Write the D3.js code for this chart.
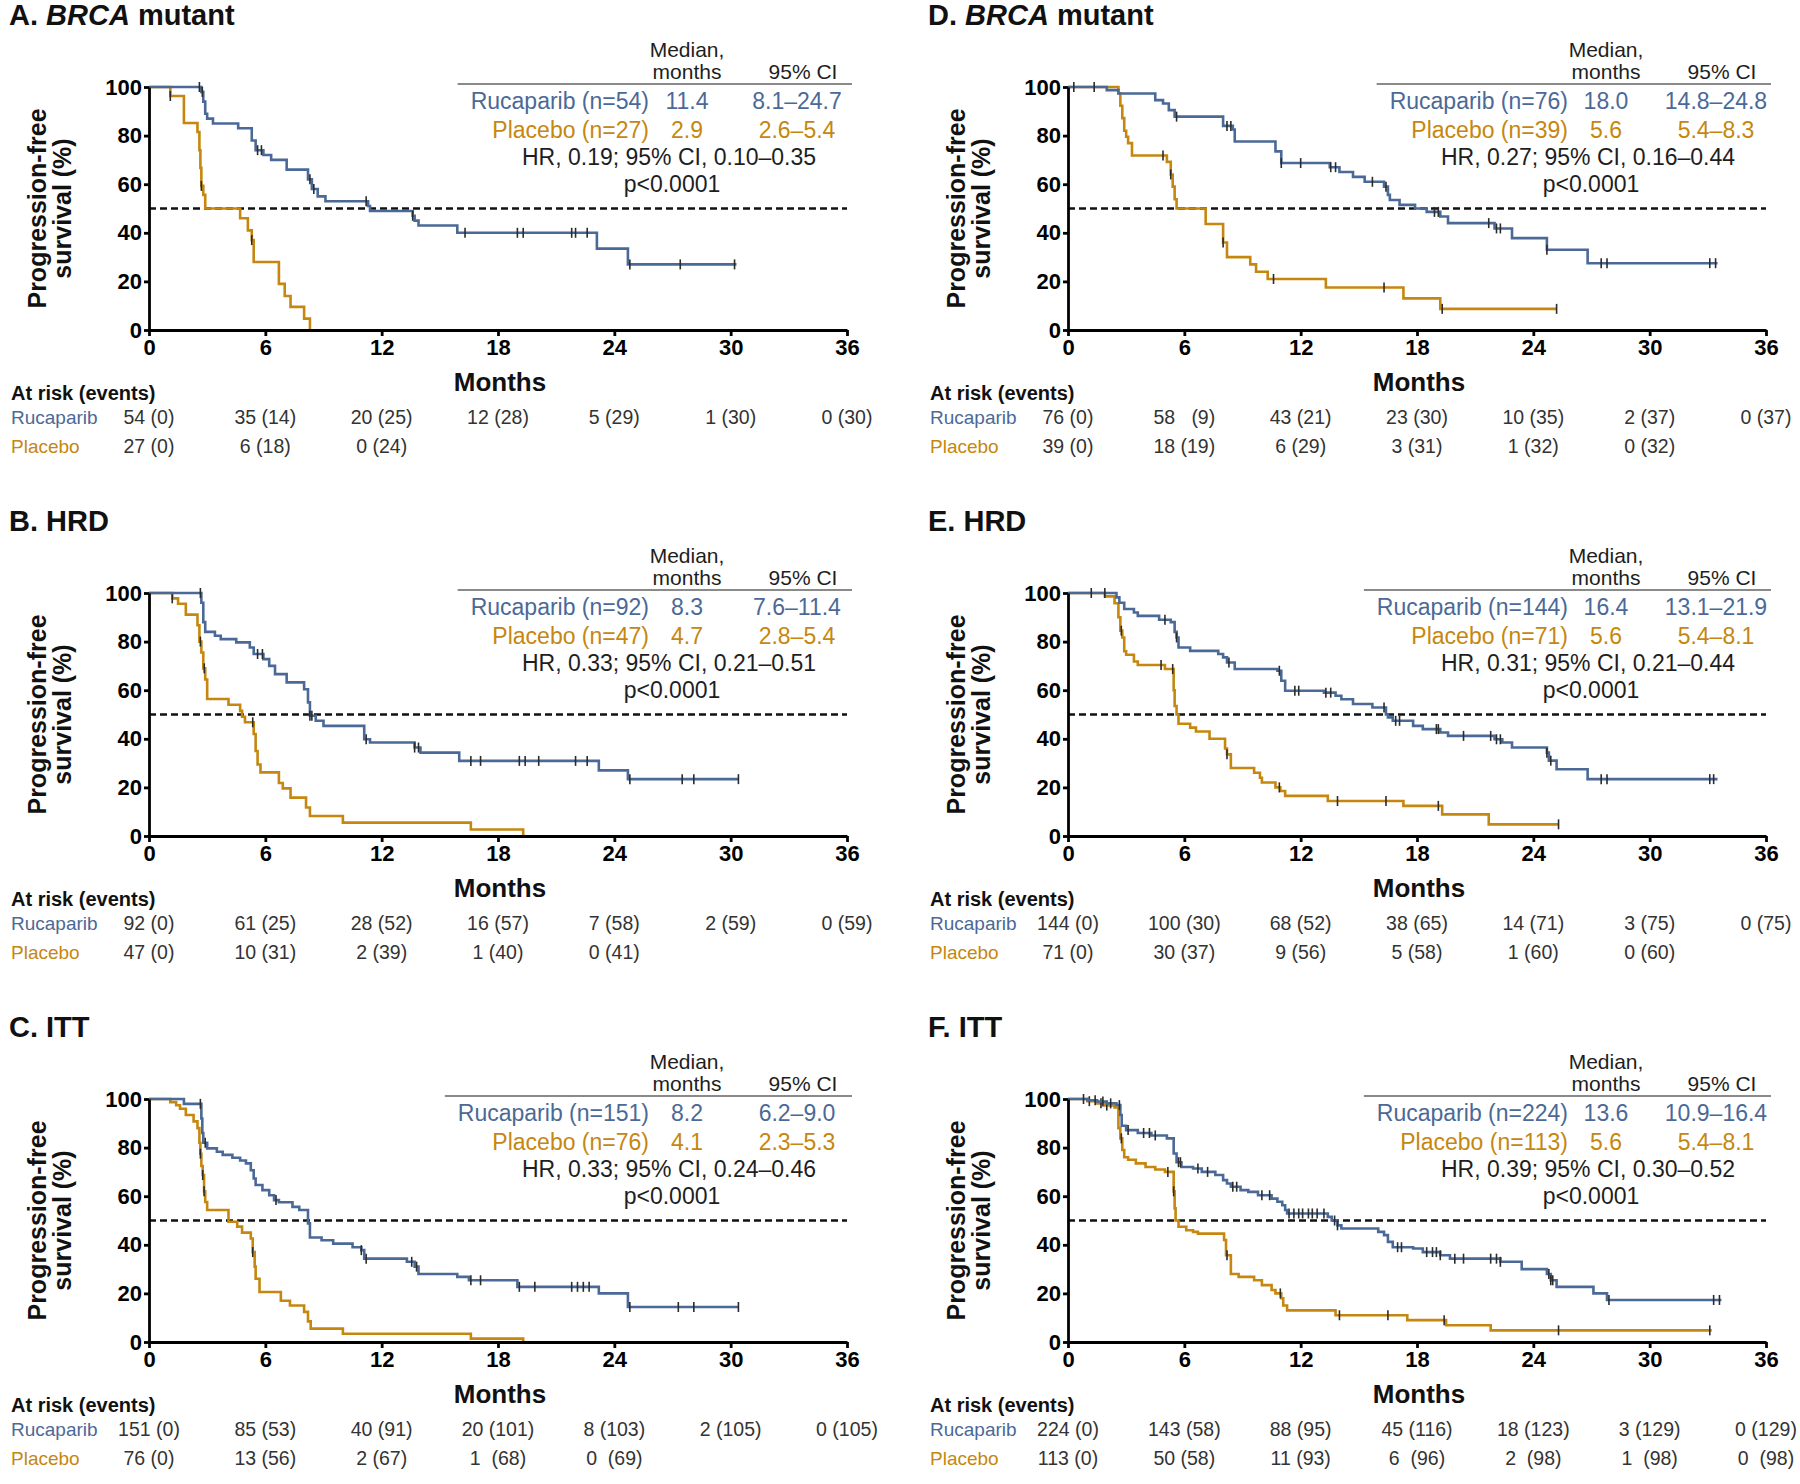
<!DOCTYPE html>
<html lang="en">
<head>
<meta charset="UTF-8">
<title>Progression-free survival by cohort</title>
<script src="https://d3js.org/d3.v7.min.js"></script>
<style>
  body { margin: 0; background: #fff; }
  svg { font-family: "Liberation Sans", Arial, sans-serif; }
  svg text { white-space: pre; }
  .axis path, .axis line { stroke: #000; stroke-width: 2.8; }
  .axis text { font-family: "Liberation Sans", Arial, sans-serif; font-size: 22px; font-weight: bold; fill: #000; }
</style>
</head>
<body>
<svg id="chart" width="1800" height="1484"></svg>
<script>
// ---- data ----
const monthTicks = [0, 6, 12, 18, 24, 30, 36];
const pctTicks = [0, 20, 40, 60, 80, 100];

const panelLetters = ["A", "B", "C", "D", "E", "F"];
const panelNames = ["BRCA mutant", "HRD", "ITT", "BRCA mutant", "HRD", "ITT"];
const rucN = [54, 92, 151, 76, 144, 224];
const placN = [27, 47, 76, 39, 71, 113];
const rucMedian = ["11.4", "8.3", "8.2", "18.0", "16.4", "13.6"];
const rucCI = ["8.1–24.7", "7.6–11.4", "6.2–9.0", "14.8–24.8", "13.1–21.9", "10.9–16.4"];
const placMedian = ["2.9", "4.7", "4.1", "5.6", "5.6", "5.6"];
const placCI = ["2.6–5.4", "2.8–5.4", "2.3–5.3", "5.4–8.3", "5.4–8.1", "5.4–8.1"];
const hrText = [
  "HR, 0.19; 95% CI, 0.10–0.35", "HR, 0.33; 95% CI, 0.21–0.51", "HR, 0.33; 95% CI, 0.24–0.46",
  "HR, 0.27; 95% CI, 0.16–0.44", "HR, 0.31; 95% CI, 0.21–0.44", "HR, 0.39; 95% CI, 0.30–0.52"
];
const pText = "p<0.0001";

// Kaplan-Meier steps: [month, % progression-free after the step]
const aRuc = [[0,100],[2.7,98],[2.8,94],[2.9,89],[3.0,87],[3.3,85],[4.6,83],[5.3,78],[5.5,74],[5.9,72],[6.3,70],[7.1,66],[8.2,62],[8.4,58],[8.7,55],[9.1,53],[11.3,51],[11.4,49],[13.6,47],[13.7,45],[13.9,43],[15.9,40],[23.1,33.5],[24.7,27],[30.3,27]];
const aRucCens = [2.6, 2.75, 5.6, 5.8, 8.3, 8.5, 11.2, 13.6, 16.3, 19.0, 19.3, 21.8, 22.0, 22.6, 24.8, 27.4, 30.2];
const aPla = [[0,100],[1.1,96.3],[1.8,85.2],[2.5,81.5],[2.6,74],[2.65,66.7],[2.7,59.3],[2.8,55.6],[2.9,50],[4.7,46],[5.1,41],[5.3,37],[5.4,28],[6.7,19],[7.0,14],[7.3,9.5],[8.0,4.7],[8.3,0]];
const aPlaCens = [1.1, 2.7, 5.3];

const bRuc = [[0,100],[2.7,96],[2.8,88],[2.9,84],[3.4,82.4],[3.7,81],[4.5,79.7],[5.2,77.6],[5.4,74.9],[5.9,72.8],[6.2,70],[6.5,66.6],[7.1,63.2],[8.0,60.4],[8.2,55],[8.3,49.5],[8.6,47.4],[9.0,45.3],[11.1,39.8],[11.4,38.5],[13.7,36.4],[14.0,34.3],[16.0,30.9],[23.2,27],[24.7,23.4],[30.4,23.4]];
const bRucCens = [2.65, 5.6, 5.85, 8.3, 8.4, 11.2, 13.7, 13.9, 16.6, 17.1, 19.1, 19.4, 20.1, 22.0, 22.6, 24.8, 27.5, 28.1, 30.4];
const bPla = [[0,100],[1.2,97.8],[1.5,95.6],[1.9,91.1],[2.5,86.7],[2.6,80],[2.7,75.5],[2.8,69],[2.9,64.4],[3.0,56.4],[4.1,54],[4.7,51.5],[4.8,49.1],[4.95,46.8],[5.4,42],[5.5,35],[5.6,29.4],[5.75,26.2],[6.7,21.8],[6.9,19.6],[7.3,15.8],[8.1,11.7],[8.3,8.2],[10.0,5.5],[16.6,2.7],[19.3,0]];
const bPlaCens = [1.2, 2.65, 2.85, 5.35];

const cRuc = [[0,100],[1.8,98],[2.7,92],[2.75,86],[2.8,82],[3.0,79.7],[3.5,78.3],[3.8,77],[4.3,75.8],[4.7,74.7],[5.0,73.5],[5.25,70.7],[5.4,67.3],[5.5,64.6],[5.85,62.5],[6.2,60.4],[6.45,58.4],[6.7,57.5],[7.4,55.6],[7.75,54.3],[8.2,48.8],[8.3,43],[8.9,41.9],[9.5,40.5],[10.5,39],[10.95,37.8],[11.1,34.3],[13.3,33],[13.7,31],[13.9,28],[15.9,26.8],[16.5,25.4],[19.0,22.7],[23.2,20],[24.7,14.4],[30.4,14.4]];
const cRucCens = [2.65, 2.9, 6.55, 10.95, 11.2, 13.55, 13.8, 16.6, 17.1, 19.1, 19.9, 21.8, 22.1, 22.4, 22.7, 24.8, 27.3, 28.1, 30.4];
const cPla = [[0,100],[1.1,98.7],[1.4,97.4],[1.6,96],[1.9,93.4],[2.3,90.8],[2.5,88],[2.6,82],[2.65,77.5],[2.7,72.4],[2.77,68.7],[2.84,62],[2.9,57.6],[3.0,54.3],[4.1,49.5],[4.55,47.5],[4.8,45],[5.25,42.6],[5.35,37],[5.45,31],[5.5,26],[5.7,20.6],[6.8,17],[7.27,15],[8.0,12.4],[8.2,8.5],[8.34,5.5],[10.0,3.4],[16.6,1.4],[19.3,0]];
const cPlaCens = [2.65, 2.77, 2.84, 5.35];

const dRuc = [[0,100],[2.0,98.7],[2.6,97.3],[4.5,94.6],[4.9,93.2],[5.2,90.5],[5.5,87.8],[8.0,84],[8.5,82.5],[8.6,77.6],[10.7,73.5],[11.0,68.7],[13.5,67],[14.0,65],[14.7,63],[15.3,61],[16.3,59],[16.5,55.6],[16.6,53.5],[17.1,51.5],[17.9,50],[18.5,48.6],[19.2,46.7],[19.6,44],[22.0,41.8],[22.9,37.8],[24.7,33],[26.8,27.5],[33.5,27.5]];
const dRucCens = [0.3, 1.35, 5.6, 8.2, 8.4, 11.0, 12.0, 13.55, 13.8, 15.7, 16.4, 18.9, 19.1, 21.7, 22.1, 22.3, 24.7, 27.5, 27.8, 33.1, 33.4];
const dPla = [[0,100],[2.6,97.4],[2.7,92.3],[2.8,87.2],[2.9,82],[3.0,79.5],[3.1,76.9],[3.3,71.8],[5.1,69.2],[5.3,64],[5.4,59],[5.5,53.8],[5.6,50],[7.1,43.6],[8.0,36],[8.2,30],[9.4,27],[9.7,24],[10.3,21],[13.3,17.5],[17.3,13],[19.2,8.7],[25.2,8.7]];
const dPlaCens = [4.9, 5.3, 8.0, 10.6, 16.3, 19.3, 25.2];

const eRuc = [[0,100],[2.5,98.2],[2.65,96],[2.9,93.4],[3.4,92],[3.6,90.6],[4.7,89],[5.3,88],[5.5,84],[5.6,81.7],[5.7,77.6],[6.3,76.2],[7.75,74.9],[8.0,73.5],[8.2,71.4],[8.6,68.7],[10.8,68],[11.0,63.9],[11.2,59.8],[13.2,59],[13.8,57.7],[14.1,56.3],[14.7,54.3],[15.7,52.9],[16.4,50],[16.5,48.8],[16.75,47.4],[17.8,45.3],[18.3,44],[19.2,42.6],[19.6,41.2],[22.0,39.8],[22.4,38.5],[22.9,36.4],[24.7,34.3],[24.8,31],[25.2,27.5],[26.8,23.4],[33.5,23.4]];
const eRucCens = [1.2, 1.9, 5.0, 5.6, 8.3, 10.9, 11.7, 11.9, 13.3, 13.55, 16.3, 16.9, 17.1, 19.0, 19.1, 20.4, 21.8, 22.1, 22.3, 24.7, 24.9, 27.5, 27.8, 33.1, 33.3];
const ePla = [[0,100],[1.9,98.6],[2.4,95.8],[2.6,90],[2.7,84.5],[2.8,81.7],[2.9,76],[3.0,74.6],[3.4,71.8],[3.6,70.4],[5.0,68.7],[5.45,60],[5.5,53.5],[5.6,50],[5.7,46.2],[6.3,44.6],[6.6,43],[7.3,40],[8.1,36],[8.2,33.6],[8.4,28],[9.6,26],[9.9,24],[10.0,22],[10.7,20],[10.95,18.5],[11.2,16.5],[13.4,14.4],[17.3,12.4],[19.3,8.9],[21.7,4.8],[25.3,4.8]];
const ePlaCens = [2.75, 4.8, 5.4, 8.2, 10.9, 13.9, 16.4, 19.1, 25.3];

const fRuc = [[0,100],[1.0,99.5],[1.5,99],[2.0,98.2],[2.5,97.5],[2.7,93.4],[2.77,89],[3.0,87.2],[3.6,86],[4.3,85],[5.1,83.8],[5.45,77.6],[5.6,74],[5.85,72],[6.45,71.4],[6.9,70],[7.6,68.7],[8.0,66.6],[8.2,65.2],[8.4,63.9],[8.9,62.5],[9.3,61.8],[9.8,60.4],[10.5,59],[10.8,57.7],[11.05,56.3],[11.2,54.3],[11.3,52.9],[13.4,51.5],[13.6,50],[13.9,48],[14.1,46.7],[16.0,45.3],[16.3,44],[16.5,41.2],[16.75,39],[17.8,38.5],[18.3,37],[19.2,35.7],[19.7,34.3],[22.3,33],[23.4,30],[24.7,28],[24.9,25.4],[25.2,22.7],[27.1,20],[27.8,17.3],[33.7,17.3]];
const fRucCens = [0.8, 1.4, 1.8, 2.2, 2.65, 3.1, 3.9, 4.2, 4.5, 5.7, 5.8, 6.7, 7.2, 8.5, 8.7, 10.0, 10.4, 11.4, 11.65, 11.9, 12.1, 12.4, 12.6, 12.85, 13.2, 13.75, 13.9, 17.0, 17.2, 18.5, 18.8, 19.0, 19.2, 19.95, 20.4, 21.8, 22.1, 22.3, 24.8, 24.9, 25.0, 27.9, 33.3, 33.6];
const fPla = [[0,100],[1.0,99.1],[1.5,98.2],[1.9,97.3],[2.4,96.5],[2.6,88],[2.7,83.8],[2.8,79],[2.9,76],[3.1,75],[3.5,73.5],[4.0,72],[4.5,71],[5.0,70],[5.45,62],[5.5,55],[5.55,50],[5.7,47.4],[6.1,46],[6.45,45.3],[6.7,44.6],[8.05,42],[8.15,35.7],[8.4,28],[8.8,26.8],[9.6,25.4],[10.0,23.4],[10.5,21.4],[10.7,20],[11.0,18],[11.1,15],[11.3,13],[13.8,11],[17.5,9],[19.5,6.9],[21.8,4.8],[33.2,4.8]];
const fPlaCens = [1.1, 1.7, 2.0, 2.75, 5.15, 5.45, 8.2, 10.95, 14.0, 16.5, 19.4, 25.3, 33.1];

// number at risk (events) at 0, 6, 12, ... months
const aRucRisk = ["54 (0)", "35 (14)", "20 (25)", "12 (28)", "5 (29)", "1 (30)", "0 (30)"];
const aPlaRisk = ["27 (0)", "6 (18)", "0 (24)"];
const bRucRisk = ["92 (0)", "61 (25)", "28 (52)", "16 (57)", "7 (58)", "2 (59)", "0 (59)"];
const bPlaRisk = ["47 (0)", "10 (31)", "2 (39)", "1 (40)", "0 (41)"];
const cRucRisk = ["151 (0)", "85 (53)", "40 (91)", "20 (101)", "8 (103)", "2 (105)", "0 (105)"];
const cPlaRisk = ["76 (0)", "13 (56)", "2 (67)", "1  (68)", "0  (69)"];
const dRucRisk = ["76 (0)", "58   (9)", "43 (21)", "23 (30)", "10 (35)", "2 (37)", "0 (37)"];
const dPlaRisk = ["39 (0)", "18 (19)", "6 (29)", "3 (31)", "1 (32)", "0 (32)"];
const eRucRisk = ["144 (0)", "100 (30)", "68 (52)", "38 (65)", "14 (71)", "3 (75)", "0 (75)"];
const ePlaRisk = ["71 (0)", "30 (37)", "9 (56)", "5 (58)", "1 (60)", "0 (60)"];
const fRucRisk = ["224 (0)", "143 (58)", "88 (95)", "45 (116)", "18 (123)", "3 (129)", "0 (129)"];
const fPlaRisk = ["113 (0)", "50 (58)", "11 (93)", "6  (96)", "2  (98)", "1  (98)", "0  (98)"];

// ---- drawing ----
const panels = [
  { ruc: aRuc, rucCens: aRucCens, pla: aPla, plaCens: aPlaCens, rucRisk: aRucRisk, plaRisk: aPlaRisk },
  { ruc: bRuc, rucCens: bRucCens, pla: bPla, plaCens: bPlaCens, rucRisk: bRucRisk, plaRisk: bPlaRisk },
  { ruc: cRuc, rucCens: cRucCens, pla: cPla, plaCens: cPlaCens, rucRisk: cRucRisk, plaRisk: cPlaRisk },
  { ruc: dRuc, rucCens: dRucCens, pla: dPla, plaCens: dPlaCens, rucRisk: dRucRisk, plaRisk: dPlaRisk },
  { ruc: eRuc, rucCens: eRucCens, pla: ePla, plaCens: ePlaCens, rucRisk: eRucRisk, plaRisk: ePlaRisk },
  { ruc: fRuc, rucCens: fRucCens, pla: fPla, plaCens: fPlaCens, rucRisk: fRucRisk, plaRisk: fPlaRisk }
];

const svg = d3.select("#chart");
const plotW = 698, plotH = 243;
const colX = [149, 1068];
const rowY = [87, 593, 1099];
const rucColor = "#4b6996", placColor = "#c5870f", censorColor = "#2b2b2b";
const textDark = "#1e1e1e";

function survivalAt(steps, t) {
  let s = steps[0][1];
  for (const st of steps) { if (st[0] <= t) s = st[1]; else break; }
  return s;
}

panels.forEach((p, i) => {
  const col = Math.floor(i / 3), row = i % 3;
  const x0 = colX[col], top = rowY[row];
  const x = d3.scaleLinear().domain([0, 36]).range([x0, x0 + plotW]);
  const y = d3.scaleLinear().domain([0, 100]).range([top + plotH, top]);
  const g = svg.append("g");

  // panel title
  const title = g.append("text")
    .attr("x", x0 - 140).attr("y", top - 62)
    .style("font-size", "29px").style("font-weight", "bold").attr("fill", "#111");
  title.append("tspan").text(panelLetters[i] + ". ");
  if (panelNames[i] === "BRCA mutant") {
    title.append("tspan").style("font-style", "italic").text("BRCA");
    title.append("tspan").text(" mutant");
  } else {
    title.append("tspan").text(panelNames[i]);
  }

  // median reference line
  g.append("line")
    .attr("x1", x(0)).attr("x2", x(36))
    .attr("y1", y(50)).attr("y2", y(50))
    .attr("stroke", "#111").attr("stroke-width", 2.6)
    .attr("stroke-dasharray", "7,4");

  // curves
  const line = d3.line().curve(d3.curveStepAfter).x(d => x(d[0])).y(d => y(d[1]));
  [[p.pla, p.plaCens, placColor], [p.ruc, p.rucCens, rucColor]].forEach(([steps, cens, color]) => {
    g.append("path").datum(steps)
      .attr("fill", "none").attr("stroke", color).attr("stroke-width", 2.6)
      .attr("d", line);
    g.selectAll(null).data(cens).enter().append("line")
      .attr("x1", d => x(d)).attr("x2", d => x(d))
      .attr("y1", d => y(survivalAt(steps, d)) - 5)
      .attr("y2", d => y(survivalAt(steps, d)) + 5)
      .attr("stroke", censorColor).attr("stroke-width", 1.6);
  });

  // axes
  g.append("g").attr("class", "axis")
    .attr("transform", `translate(0,${y(0)})`)
    .call(d3.axisBottom(x).tickValues(monthTicks).tickSize(6).tickSizeOuter(0).tickPadding(3));
  g.append("g").attr("class", "axis")
    .attr("transform", `translate(${x(0)},0)`)
    .call(d3.axisLeft(y).tickValues(pctTicks).tickSize(5).tickSizeOuter(0).tickPadding(2));

  // axis titles
  g.append("text")
    .attr("x", x0 + 351).attr("y", y(0) + 52)
    .attr("text-anchor", "middle").attr("dominant-baseline", "central")
    .style("font-size", "26px").style("font-weight", "bold").attr("fill", "#111")
    .text("Months");
  const ylab = g.append("text")
    .attr("transform", `translate(${x0 - 112},${top + plotH / 2}) rotate(-90)`)
    .attr("text-anchor", "middle")
    .style("font-size", "25px").style("font-weight", "bold").attr("fill", "#111");
  ylab.append("tspan").attr("x", 0).attr("dy", "0.35em").text("Progression-free");
  ylab.append("tspan").attr("x", 0).attr("dy", "1.02em").text("survival (%)");

  // legend table
  const lx = x0 + 500, mx = x0 + 538, cx = x0 + 648;
  const leg = g.append("g").style("font-size", "23px");
  leg.append("text").attr("x", mx).attr("y", top - 38).attr("text-anchor", "middle")
    .attr("dominant-baseline", "central").style("font-size", "21px").attr("fill", textDark).text("Median,");
  leg.append("text").attr("x", mx).attr("y", top - 16).attr("text-anchor", "middle")
    .attr("dominant-baseline", "central").style("font-size", "21px").attr("fill", textDark).text("months");
  leg.append("text").attr("x", cx + 6).attr("y", top - 16).attr("text-anchor", "middle")
    .attr("dominant-baseline", "central").style("font-size", "21px").attr("fill", textDark).text("95% CI");
  const rucLabel = leg.append("text").attr("x", lx).attr("y", top + 14).attr("text-anchor", "end")
    .attr("dominant-baseline", "central").attr("fill", rucColor).text(`Rucaparib (n=${rucN[i]})`);
  leg.append("text").attr("x", mx).attr("y", top + 14).attr("text-anchor", "middle")
    .attr("dominant-baseline", "central").attr("fill", rucColor).text(rucMedian[i]);
  leg.append("text").attr("x", cx).attr("y", top + 14).attr("text-anchor", "middle")
    .attr("dominant-baseline", "central").attr("fill", rucColor).text(rucCI[i]);
  leg.append("text").attr("x", lx).attr("y", top + 43).attr("text-anchor", "end")
    .attr("dominant-baseline", "central").attr("fill", placColor).text(`Placebo (n=${placN[i]})`);
  leg.append("text").attr("x", mx).attr("y", top + 43).attr("text-anchor", "middle")
    .attr("dominant-baseline", "central").attr("fill", placColor).text(placMedian[i]);
  leg.append("text").attr("x", cx).attr("y", top + 43).attr("text-anchor", "middle")
    .attr("dominant-baseline", "central").attr("fill", placColor).text(placCI[i]);
  leg.append("text").attr("x", x0 + 520).attr("y", top + 70).attr("text-anchor", "middle")
    .attr("dominant-baseline", "central").attr("fill", textDark).text(hrText[i]);
  leg.append("text").attr("x", x0 + 523).attr("y", top + 97).attr("text-anchor", "middle")
    .attr("dominant-baseline", "central").attr("fill", textDark).text(pText);
  const labelW = rucLabel.node().getComputedTextLength();
  leg.append("line")
    .attr("x1", lx - labelW - 13).attr("x2", x0 + 703)
    .attr("y1", top - 3).attr("y2", top - 3)
    .attr("stroke", "#8a8a8a").attr("stroke-width", 2);

  // at-risk table
  const risk = g.append("g");
  risk.append("text").attr("x", x0 - 138).attr("y", y(0) + 63)
    .attr("dominant-baseline", "central")
    .style("font-size", "20px").style("font-weight", "bold").attr("fill", "#111")
    .text("At risk (events)");
  [["Rucaparib", p.rucRisk, rucColor, 87], ["Placebo", p.plaRisk, placColor, 116]].forEach(([name, vals, color, dy]) => {
    risk.append("text").attr("x", x0 - 138).attr("y", y(0) + dy)
      .attr("dominant-baseline", "central").style("font-size", "19px")
      .attr("fill", color).text(name);
    risk.selectAll(null).data(vals).enter().append("text")
      .attr("x", (d, k) => x(monthTicks[k])).attr("y", y(0) + dy)
      .attr("text-anchor", "middle").attr("dominant-baseline", "central")
      .style("font-size", "19.5px").attr("fill", "#333")
      .text(d => d);
  });
});
</script>
</body>
</html>
